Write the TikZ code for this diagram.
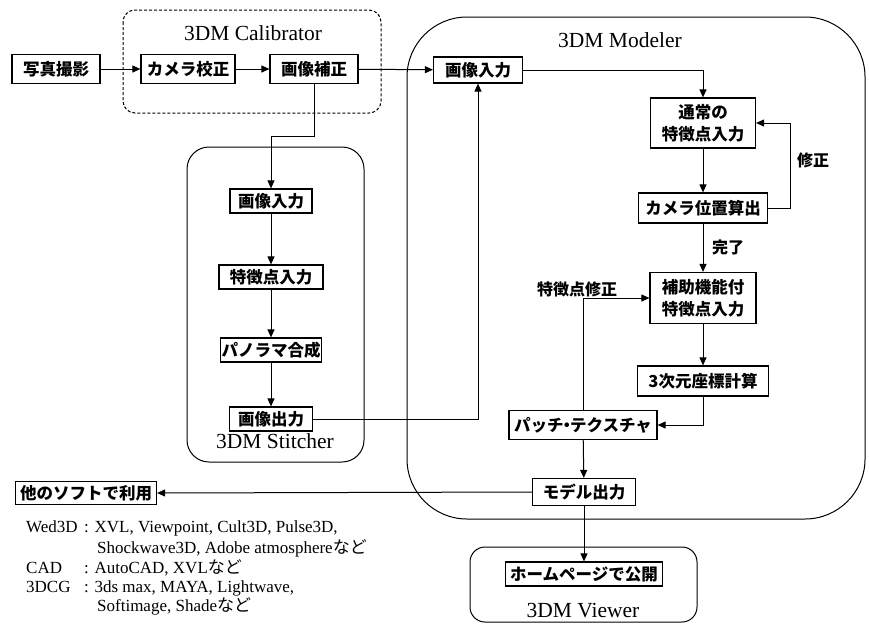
\documentclass[tikz,border=0pt]{standalone}
\usepackage{fontspec}
\setmainfont{Liberation Serif}
\newfontfamily\jp{Noto Sans CJK JP}
\usetikzlibrary{arrows.meta}
\begin{document}
\begin{tikzpicture}[x=1pt,y=-1pt,
  box/.style={draw,line width=1.2pt,fill=white,inner sep=0pt,font=\jp\bfseries\fontsize{16.5}{22}\selectfont,align=center},
  cont/.style={draw,line width=1pt},
  arr/.style={line width=1pt,-{Triangle[length=8pt,width=7pt]}},
  lab/.style={font=\jp\bfseries\fontsize{16}{19}\selectfont,inner sep=0pt},
  title/.style={font=\fontsize{21.5}{23}\selectfont,inner sep=0pt},
  note/.style={font=\fontsize{17}{18}\selectfont,inner sep=0pt,anchor=base west}]
\useasboundingbox (0,0) rectangle (869,624);
% containers
\draw[cont,dash pattern=on 3pt off 2pt,rounded corners=12pt] (123,10) rectangle (381,113);
\node[title] (tcal) at (253,33) {3DM Calibrator};
\draw[cont,rounded corners=22pt] (187,147) rectangle (364,462);
\node[title] (tsti) at (275,441) {3DM Stitcher};
\draw[cont,rounded corners=60pt] (407,17) rectangle (865,519);
\node[title] (tmod) at (620,40) {3DM Modeler};
\draw[cont,rounded corners=15pt] (470,547) rectangle (697,622);
\node[title] (tvie) at (583,611) {3DM Viewer};
% boxes
\node[box,minimum width=88pt,minimum height=29pt] (shashin) at (56,69) {写真撮影};
\node[box,minimum width=94pt,minimum height=29pt] (camcal) at (188,69) {カメラ校正};
\node[box,minimum width=88pt,minimum height=29pt] (hosei) at (314,69) {画像補正};
\node[box,minimum width=82pt,minimum height=24pt] (s1) at (271,201) {画像入力};
\node[box,minimum width=104pt,minimum height=24pt] (s2) at (271,277) {特徴点入力};
\node[box,minimum width=101pt,minimum height=24pt] (s3) at (271,350) {パノラマ合成};
\node[box,minimum width=83pt,minimum height=24pt] (s4) at (271,419) {画像出力};
\node[box,minimum width=89pt,minimum height=26pt] (m1) at (478,70) {画像入力};
\node[box,minimum width=105pt,minimum height=50pt] (m2) at (703,123) {通常の\\特徴点入力};
\node[box,minimum width=129pt,minimum height=30pt] (m3) at (703,208) {カメラ位置算出};
\node[box,minimum width=106pt,minimum height=51pt] (m4) at (703,298) {補助機能付\\特徴点入力};
\node[box,minimum width=131pt,minimum height=30pt] (m5) at (703,381) {3次元座標計算};
\node[box,minimum width=148pt,minimum height=29pt] (m6) at (583,425) {パッチ\kern-0.3em・\kern-0.3em テクスチャ};
\node[box,minimum width=103pt,minimum height=27pt] (m7) at (584,492) {モデル出力};
\node[box,minimum width=141pt,minimum height=23pt] (other) at (86,493) {他のソフトで利用};
\node[box,minimum width=157pt,minimum height=24pt] (v1) at (584,574) {ホームページで公開};
% labels
\node[lab] (lshu) at (813,160) {修正};
\node[lab,anchor=west] (lkan) at (712,247) {完了};
\node[lab] (ltok) at (577,289) {特徴点修正};
% connectors
\draw[arr] (shashin) -- (camcal);
\draw[arr] (camcal) -- (hosei);
\draw[arr] (hosei) -- (m1);
\draw[arr] (hosei.south) -- ++(0,52) -| (s1.north);
\draw[arr] (s1) -- (s2);
\draw[arr] (s2) -- (s3);
\draw[arr] (s3) -- (s4);
\draw[arr] (s4.east) -| (m1.south);
\draw[arr] (m1.east) -| (m2.north);
\draw[arr] (m2) -- (m3);
\draw[arr] (m3.east) -- ++(22,0) |- (m2.east);
\draw[arr] (m3) -- (m4);
\draw[arr] (m4) -- (m5);
\draw[arr] (m5.south) |- (m6.east);
\draw[arr] (m6.north) |- (m4.west);
\draw[arr] (m6) -- (m7);
\draw[arr] (m7.west) -- (other.east);
\draw[arr] (m7) -- (v1);
% notes
\node[note] (n1a) at (26,532) {Wed3D};
\node[note] (n1b) at (84,532) {: XVL, Viewpoint, Cult3D, Pulse3D,};
\node[note] (n2) at (97,553) {Shockwave3D, Adobe atmosphere{\jp など}};
\node[note] (n3a) at (26,573) {CAD};
\node[note] (n3b) at (84,573) {: AutoCAD, XVL{\jp など}};
\node[note] (n4a) at (26,592) {3DCG};
\node[note] (n4b) at (84,592) {: 3ds max, MAYA, Lightwave,};
\node[note] (n5) at (97,611) {Softimage, Shade{\jp など}};
\end{tikzpicture}
\end{document}
